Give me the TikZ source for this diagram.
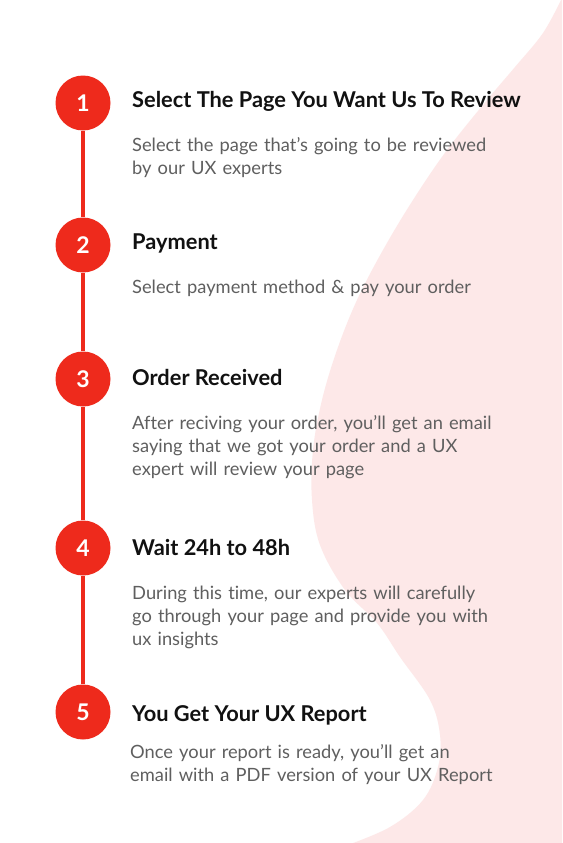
\documentclass[tikz,border=0pt]{standalone}
\usepackage{fontspec}
\setmainfont{Lato}[Ligatures=NoCommon]
\definecolor{stepred}{RGB}{238,42,28}
\definecolor{blobpink}{RGB}{253,232,232}
\definecolor{bodygray}{RGB}{95,95,95}
\definecolor{titleblack}{RGB}{17,17,17}
\begin{document}
\begin{tikzpicture}[x=1pt,y=-1pt,
  stepcircle/.style={circle,fill=stepred,minimum size=55pt,inner sep=0pt,text=white,font=\fontsize{23}{23}\selectfont\bfseries},
  steptitle/.style={anchor=base west,inner sep=0pt,text=titleblack,font=\fontsize{21.8}{23}\selectfont\bfseries},
  stepbody/.style={anchor=base west,inner sep=0pt,text=bodygray,align=left,text width=420pt,font=\fontsize{18.3}{23}\selectfont},
  timeline/.style={draw=stepred,line width=3.5pt}]
\useasboundingbox (0,0) rectangle (562,843);
\fill[white] (0,0) rectangle (562,843);
\fill[blobpink] plot[smooth,tension=0.6] coordinates {(562,-2) (543,33) (515,67) (487,100) (447,150) (413,200) (383,250) (357,300) (337,350) (322,400) (313,450) (312,500) (320,545) (345,590) (377,623) (400,657) (430,700) (440,735) (438,767) (423,800) (390,827) (345,846)} -- (562,846) -- cycle;
\node[stepcircle] (c1) at (83,103) {1};
\node[stepcircle] (c2) at (83,245) {2};
\node[stepcircle] (c3) at (83,379) {3};
\node[stepcircle] (c4) at (83,548) {4};
\node[stepcircle] (c5) at (83,712) {5};
\draw[timeline] (c1.south) -- (c2.north);
\draw[timeline] (c2.south) -- (c3.north);
\draw[timeline] (c3.south) -- (c4.north);
\draw[timeline] (c4.south) -- (c5.north);
\node[steptitle] (t1) at (132,107) {Select The Page You Want Us To Review};
\node[stepbody] (b1) at (132,151) {Select the page that’s going to be reviewed\\by our UX experts};
\node[steptitle] (t2) at (132,249) {Payment};
\node[stepbody] (b2) at (132,293) {Select payment method \& pay your order};
\node[steptitle] (t3) at (132,385) {Order Received};
\node[stepbody] (b3) at (132,429) {After reciving your order, you’ll get an email\\saying that we got your order and a UX\\expert will review your page};
\node[steptitle] (t4) at (132,555) {Wait 24h to 48h};
\node[stepbody] (b4) at (132,599) {During this time, our experts will carefully\\go through your page and provide you with\\ux insights};
\node[steptitle] (t5) at (132,721) {You Get Your UX Report};
\node[stepbody] (b5) at (130,758) {Once your report is ready, you’ll get an\\email with a PDF version of your UX Report};
\end{tikzpicture}
\end{document}
